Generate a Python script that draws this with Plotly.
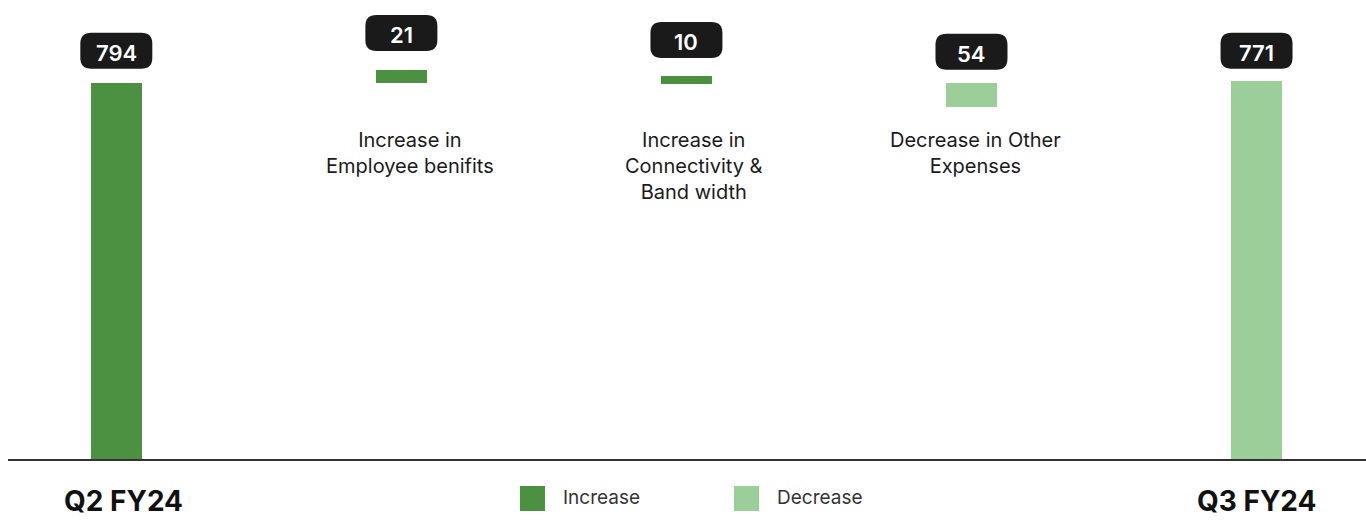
import plotly.graph_objects as go

# ---------------- data ----------------
categories = ["Q2 FY24", "Increase in<br>Employee benifits",
              "Increase in<br>Connectivity &<br>Band width",
              "Decrease in Other<br>Expenses", "Q3 FY24"]
label_values = [794, 21, 10, 54, 771]
kinds = ["Increase", "Increase", "Increase", "Decrease", "Decrease"]
# bar extents as drawn in the picture (value units)
bar_base = [0, 793, 792, 743, 0]
bar_top = [794, 821, 808, 794, 798]
legend_items = ["Increase", "Decrease"]

# ---------------- style ----------------
W, H = 1366, 522
ML, MR, MT, MB = 8, 0, 0, 63
PW, PH = W - ML - MR, H - MT - MB
COLORS = {"Increase": "#4C9141", "Decrease": "#9CCE9A"}
FONT = "Inter, 'Open Sans', sans-serif"
LABEL_GAP = [14, 19, 18, 13, 12]   # px between bar top and value box
CAT_XSHIFT = [0, 9, 8, 4, 0]       # px nudges for category captions
BOX_W, BOX_H, R = 72, 36, 11


def pxx(p):
    return (p - ML) / PW


def pxy(p):
    return (MT + PH - p) / PH


x = list(range(len(categories)))
heights = [t - b for t, b in zip(bar_top, bar_base)]

fig = go.Figure()
fig.add_trace(go.Bar(
    x=x, y=heights, base=bar_base, width=0.179,
    marker=dict(color=[COLORS[k] for k in kinds], line=dict(width=0)),
    showlegend=False, hoverinfo="skip"))

shapes = []
annotations = []

# value boxes
for i, (v, top, g) in enumerate(zip(label_values, bar_top, LABEL_GAP)):
    hw = BOX_W / 2
    y0, y1 = g, g + BOX_H
    path = (f"M {-hw + R},{y0} L {hw - R},{y0} Q {hw},{y0} {hw},{y0 + R} "
            f"L {hw},{y1 - R} Q {hw},{y1} {hw - R},{y1} L {-hw + R},{y1} "
            f"Q {-hw},{y1} {-hw},{y1 - R} L {-hw},{y0 + R} Q {-hw},{y0} {-hw + R},{y0} Z")
    shapes.append(dict(type="path", xref="x", yref="y", xsizemode="pixel",
                       ysizemode="pixel", xanchor=i, yanchor=top, path=path,
                       fillcolor="#1A1A1A", line=dict(width=0), layer="above"))
    annotations.append(dict(x=i, y=top, xref="x", yref="y", text=str(v),
                            showarrow=False, yshift=g + BOX_H / 2 - 2,
                            yanchor="middle",
                            font=dict(family=FONT, size=22, color="white",
                                      weight=600)))

# category texts for middle bars
for i in range(1, len(categories) - 1):
    annotations.append(dict(x=i, y=pxy(125.5), xref="x", yref="paper",
                            text=categories[i], showarrow=False,
                            xshift=CAT_XSHIFT[i],
                            yanchor="top", align="center",
                            font=dict(family=FONT, size=20, color="#1A1A1A")))

# end labels
for i, cx in [(0, 123), (len(categories) - 1, 1257)]:
    annotations.append(dict(x=pxx(cx), y=pxy(501), xref="paper", yref="paper",
                            text=categories[i], showarrow=False,
                            yanchor="middle", xanchor="center",
                            font=dict(family=FONT, size=28, color="#111111",
                                      weight=700)))

# legend
for name, sx, tx in zip(legend_items, [520, 734], [561, 775]):
    shapes.append(dict(type="rect", xref="paper", yref="paper",
                       x0=pxx(sx), x1=pxx(sx + 25), y0=pxy(511), y1=pxy(486),
                       fillcolor=COLORS[name], line=dict(width=0)))
    annotations.append(dict(x=pxx(tx), y=pxy(498), xref="paper", yref="paper",
                            text=name, showarrow=False, xanchor="left",
                            yanchor="middle",
                            font=dict(family=FONT, size=19, color="#333333")))

fig.update_layout(
    width=W, height=H, margin=dict(l=ML, r=MR, t=MT, b=MB),
    paper_bgcolor="white", plot_bgcolor="white",
    xaxis=dict(range=[-0.38, 4.384], showticklabels=False, showgrid=False,
               zeroline=False, showline=True, linecolor="#333333", linewidth=2,
               ticks="", fixedrange=True),
    yaxis=dict(range=[0, 968.5], visible=False, fixedrange=True),
    shapes=shapes, annotations=annotations, bargap=0, showlegend=False,
)

fig.write_html("out.html")
